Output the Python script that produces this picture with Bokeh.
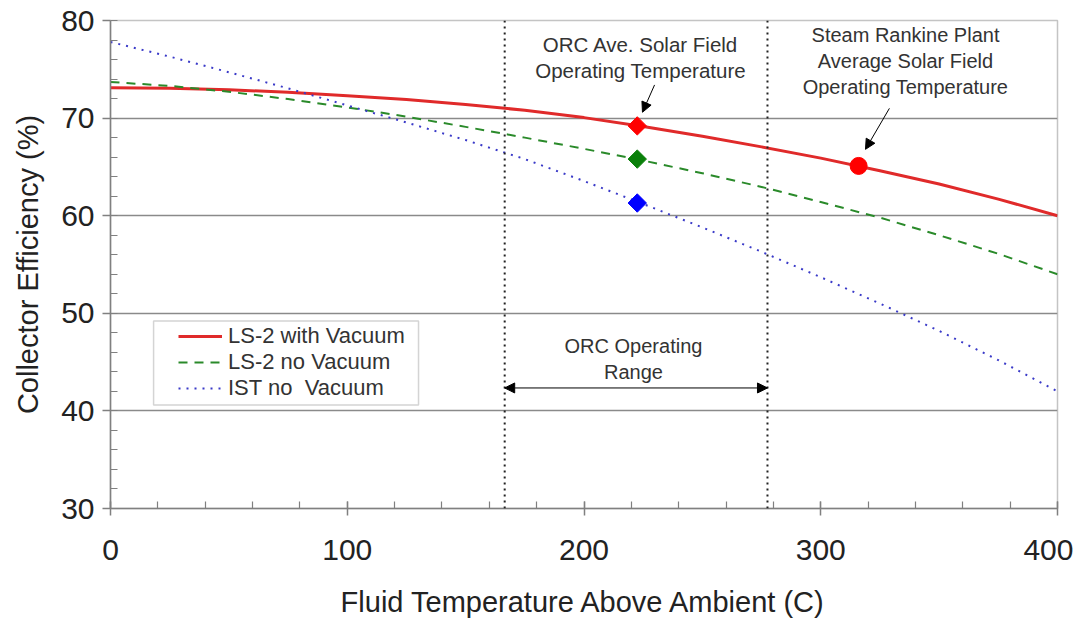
import math
from bokeh.plotting import figure
from bokeh.models import (Range1d, SingleIntervalTicker, Span, Label, Arrow,
                          NormalHead, Legend, LegendItem, ColumnDataSource,
                          BoxAnnotation)
from bokeh.embed import file_html
from bokeh.resources import INLINE

# ---- data ----
temp = [0, 25, 50, 75, 100, 125, 150, 175, 200, 225, 250, 275, 300, 325, 350, 375, 400]
ls2_vacuum = [73.1, 73.05, 72.9, 72.65, 72.3, 71.9, 71.4, 70.8, 70.05, 69.15,
              68.15, 67.05, 65.9, 64.6, 63.25, 61.7, 60.0]
ls2_no_vacuum = [73.7, 73.3, 72.7, 71.95, 71.1, 70.15, 69.1, 68.0, 66.85, 65.65,
                 64.35, 62.95, 61.4, 59.8, 58.0, 56.1, 54.0]
ist_no_vacuum = [77.8, 76.3, 74.7, 73.05, 71.3, 69.55, 67.75, 65.8, 63.55, 61.2,
                 58.8, 56.3, 53.7, 51.0, 48.2, 45.2, 42.0]

orc_temp = 222.5
orc_points = [69.2, 65.8, 61.3]
steam_temp = 316.0
steam_point = 65.1

orc_range = [166.5, 277.5]

series_names = ["LS-2 with Vacuum", "LS-2 no Vacuum", "IST no  Vacuum"]
x_ticks_major = 100
y_ticks_major = 10

FONT = "Liberation Sans"

p = figure(width=1073, height=620, output_backend="svg", toolbar_location=None,
           x_range=Range1d(0, 400), y_range=Range1d(30, 80),
           min_border_left=110, min_border_right=16, min_border_top=20,
           min_border_bottom=110)
p.background_fill_color = "white"
p.border_fill_color = "white"
p.outline_line_color = "#c4c4c4"
p.outline_line_width = 1.5

# axes
p.xaxis.ticker = SingleIntervalTicker(interval=x_ticks_major, num_minor_ticks=5)
p.yaxis.ticker = SingleIntervalTicker(interval=y_ticks_major, num_minor_ticks=5)
for ax in (p.xaxis, p.yaxis):
    ax.axis_line_color = "#808080"
    ax.axis_line_width = 1.5
    ax.major_tick_line_color = "#808080"
    ax.minor_tick_line_color = "#808080"
    ax.major_tick_line_width = 1.5
    ax.minor_tick_line_width = 1.2
    ax.major_label_text_font = FONT
    ax.major_label_text_font_size = "30px"
    ax.major_label_text_color = "#222222"
    ax.axis_label_text_font = FONT
    ax.axis_label_text_font_size = "29px"
    ax.axis_label_text_font_style = "normal"
    ax.axis_label_text_color = "#222222"
p.xaxis.major_tick_in = 7
p.xaxis.major_tick_out = 7
p.xaxis.minor_tick_in = 7
p.xaxis.minor_tick_out = 0
p.yaxis.major_tick_in = 0
p.yaxis.major_tick_out = 8
p.yaxis.minor_tick_in = 7
p.yaxis.minor_tick_out = 0
p.xaxis.major_label_standoff = 24
p.yaxis.major_label_standoff = 8
p.xaxis.axis_label = "Fluid Temperature Above Ambient (C)"
p.yaxis.axis_label = "Collector Efficiency (%)"
p.xaxis.axis_label_standoff = 23
p.yaxis.axis_label_standoff = 14

p.xgrid.visible = False
p.ygrid.grid_line_color = "#8a8a8a"
p.ygrid.grid_line_width = 1.5

# range lines
for loc in orc_range:
    p.add_layout(Span(location=loc, dimension="height", line_color="#222222",
                      line_width=2, line_dash="2 4"))

# series
src = ColumnDataSource(dict(t=temp, a=ls2_vacuum, b=ls2_no_vacuum, c=ist_no_vacuum))
r1 = p.line("t", "a", source=src, line_color="#e02a2a", line_width=3)
r2 = p.line("t", "b", source=src, line_color="#2a8a2a", line_width=2, line_dash="9 7")
r3 = p.line("t", "c", source=src, line_color="#3a3ac8", line_width=2, line_dash="2 6")

# markers
p.scatter([orc_temp], [orc_points[0]], marker="square", angle=math.pi / 4, size=13,
          fill_color="#ff0000", line_color="#ff0000")
p.scatter([orc_temp], [orc_points[1]], marker="square", angle=math.pi / 4, size=13,
          fill_color="#0a800a", line_color="#0a800a")
p.scatter([orc_temp], [orc_points[2]], marker="square", angle=math.pi / 4, size=13,
          fill_color="#0000ff", line_color="#0000ff")
p.scatter([steam_temp], [steam_point], marker="circle", size=17,
          fill_color="#ff0000", line_color="#ff0000")

# annotations text
def lab(x, y, t, size="20px"):
    p.add_layout(Label(x=x, y=y, text=t, text_font=FONT, text_font_size=size,
                       text_color="#333333", text_align="center",
                       text_baseline="middle"))

lab(223.9, 77.55, "ORC Ave. Solar Field", "20.5px")
lab(223.9, 74.9, "Operating Temperature", "20.5px")
lab(335.8, 78.47, "Steam Rankine Plant")
lab(335.8, 75.8, "Average Solar Field")
lab(335.8, 73.2, "Operating Temperature")
lab(220.9, 46.6, "ORC Operating")
lab(220.9, 44.0, "Range")

# arrows
p.add_layout(Arrow(end=NormalHead(size=10, fill_color="black", line_color="black"),
                   x_start=229.8, y_start=73.4, x_end=224.7, y_end=70.6,
                   line_color="black", line_width=1))
p.add_layout(Arrow(end=NormalHead(size=10, fill_color="black", line_color="black"),
                   x_start=329.0, y_start=71.0, x_end=318.9, y_end=66.8,
                   line_color="black", line_width=1))
p.add_layout(Arrow(start=NormalHead(size=10, fill_color="black", line_color="black"),
                   end=NormalHead(size=10, fill_color="black", line_color="black"),
                   x_start=orc_range[0], y_start=42.35, x_end=orc_range[1], y_end=42.35,
                   line_color="black", line_width=1))

# legend frame
p.add_layout(BoxAnnotation(left=18.2, right=130.1, bottom=40.6, top=49.2,
                           fill_color="white", fill_alpha=1,
                           line_color="#707070", line_width=1.5))

legend = Legend(items=[LegendItem(label=series_names[0], renderers=[r1]),
                       LegendItem(label=series_names[1], renderers=[r2]),
                       LegendItem(label=series_names[2], renderers=[r3])],
                location=(64, 103), orientation="vertical")
legend.margin = 0
legend.padding = 4
legend.spacing = 0
legend.label_height = 22
legend.glyph_height = 22
legend.glyph_width = 44
legend.label_standoff = 6
legend.label_text_font = FONT
legend.label_text_font_size = "22px"
legend.label_text_color = "#333333"
legend.border_line_alpha = 0
legend.background_fill_alpha = 0
p.add_layout(legend, "center")

open("out.html", "w").write(file_html(p, INLINE))
